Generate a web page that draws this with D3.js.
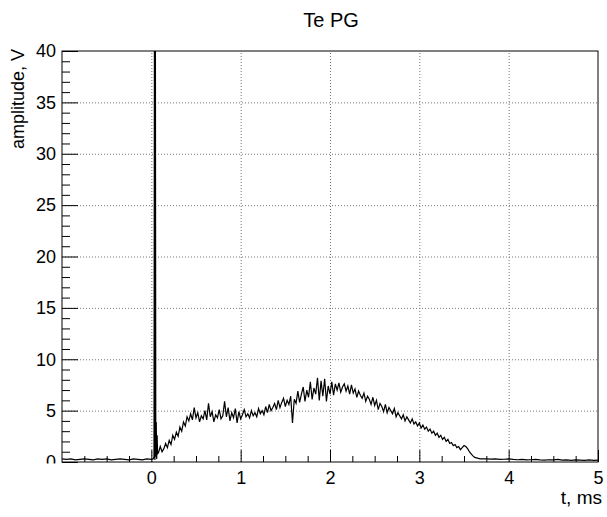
<!DOCTYPE html>
<html><head><meta charset="utf-8">
<script src="https://cdn.jsdelivr.net/npm/d3@7/dist/d3.min.js"></script>
<style>body{margin:0;background:#fff}text{font-family:"Liberation Sans",Arial,Helvetica,sans-serif;fill:#000}</style>
</head><body>
<svg id="chart" width="607" height="517"></svg>
<script>
// ---- text ----
const chartTitle = "Te PG";
const xAxisTitle = "t, ms";
const yAxisTitle = "amplitude, V";

// ---- axes ----
const xDomain = [-1, 5];
const yDomain = [0, 40];
const xMajorTicks = [0, 1, 2, 3, 4, 5];
const xMinorTicks = [-0.75, -0.5, -0.25, 0.25, 0.5, 0.75, 1.25, 1.5, 1.75, 2.25, 2.5, 2.75, 3.25, 3.5, 3.75, 4.25, 4.5, 4.75];
const yMajorTicks = [0, 5, 10, 15, 20, 25, 30, 35, 40];
const yMinorTicks = [1,2,3,4,6,7,8,9,11,12,13,14,16,17,18,19,21,22,23,24,26,27,28,29,31,32,33,34,36,37,38,39];

// ---- data: baseline before trigger (t from -1.00, step 0.05 ms) ----
const preStart = -1.0, preStep = 0.05;
const preValues = [0.3,0.25,0.3,0.2,0.25,0.3,0.25,0.2,0.3,0.25,0.3,0.2,0.25,0.3,0.25,0.2,0.3,0.25,0.2,0.3,0.25];

// ---- data: trigger spike (explicit times) ----
const spikeTimes  = [0.02, 0.03, 0.035, 0.04, 0.045, 0.05, 0.055, 0.06, 0.065, 0.07];
const spikeValues = [0.3, 0.5, 46, 0.2, 46, 0.5, 3.9, 0.3, 2.6, 0.8];

// ---- data: signal (t from 0.08, step 0.02 ms) ----
const sigStart = 0.08, sigStep = 0.02;
const sigValues = [
 0.9,1.5,1.0,1.3,1.8, 1.4,2.1,1.7,2.6,2.2, 2.9,2.5,3.4,3.0,3.9, 3.5,4.4,4.0,4.7,4.1,
 5.3,4.3,4.8,3.9,4.5, 4.2,5.0,4.1,5.7,4.4, 4.9,3.9,4.6,4.3,5.1, 4.2,4.5,5.9,4.4,5.3,
 4.0,4.8,4.3,5.2,3.8, 4.9,4.2,4.6,5.1,4.4, 4.7,4.3,5.0,4.5,4.8, 4.4,5.2,4.7,5.0,4.6,
 5.4,4.8,5.6,5.0,5.3, 5.7,5.1,6.0,5.3,5.8, 6.2,5.4,6.0,5.6,6.4, 3.8,6.1,5.7,6.9,5.8,
 6.6,7.3,5.9,7.0,6.3, 7.8,6.1,7.2,6.6,8.2, 6.0,7.9,6.4,8.1,5.9, 7.4,6.6,7.8,6.5,7.6,
 7.0,7.7,6.8,7.3,7.6, 6.9,7.4,6.6,7.5,6.7, 7.1,6.3,6.9,6.5,6.2, 6.7,5.9,6.4,6.1,5.6,
 6.3,5.5,6.0,5.1,5.7, 5.4,4.9,5.6,4.8,5.3, 5.0,4.7,5.2,4.4,4.8, 4.5,4.2,4.6,4.0,4.4,
 4.1,3.8,4.2,3.7,3.9, 3.5,3.8,3.3,3.6,3.2, 3.4,3.0,3.2,2.8,3.0, 2.6,2.8,2.4,2.6,2.2,
 2.4,2.0,2.2,1.8,1.9, 1.6,1.7,1.4,1.5,1.2, 1.4,1.6,1.5,1.3,1.0, 0.8,0.6,0.45,0.4,0.35,
 0.3,0.3
];

// ---- data: baseline after pulse (t from 3.75, step 0.05 ms) ----
const postStart = 3.75, postStep = 0.05;
const postValues = [0.3,0.28,0.3,0.25,0.27,0.3,0.25,0.22,0.25,0.2,0.22,0.25,0.2,0.18,0.22,0.2,0.25,0.18,0.2,0.15,0.2,0.18,0.15,0.2,0.15,0.18];

// assemble points
const points = [];
preValues.forEach((v,i)=>points.push([preStart + i*preStep, v]));
spikeValues.forEach((v,i)=>points.push([spikeTimes[i], v]));
sigValues.forEach((v,i)=>points.push([sigStart + i*sigStep, v]));
postValues.forEach((v,i)=>points.push([postStart + i*postStep, v]));

// ---- layout ----
const L = 62, R = 598, T = 51, B = 462;
const svg = d3.select("#chart");
const x = d3.scaleLinear().domain(xDomain).range([L, R]);
const y = d3.scaleLinear().domain(yDomain).range([B, T]);

svg.append("rect").attr("width",607).attr("height",517).attr("fill","#fff");

// grid
const gridColor = "#777";
svg.append("g").attr("transform",`translate(0,${B})`)
  .call(d3.axisBottom(x).tickValues(xMajorTicks.filter(d=>d>xDomain[0]&&d<xDomain[1])).tickSize(-(B-T)).tickFormat(""))
  .call(g=>{g.select(".domain").remove();g.selectAll("line").attr("stroke",gridColor).attr("stroke-dasharray","1,2");});
svg.append("g").attr("transform",`translate(${L},0)`)
  .call(d3.axisLeft(y).tickValues(yMajorTicks.filter(d=>d>yDomain[0]&&d<yDomain[1])).tickSize(-(R-L)).tickFormat(""))
  .call(g=>{g.select(".domain").remove();g.selectAll("line").attr("stroke",gridColor).attr("stroke-dasharray","1,2");});

// data line
svg.append("clipPath").attr("id","plotclip").append("rect").attr("x",L).attr("y",T).attr("width",R-L).attr("height",B-T);
svg.append("path").datum(points)
  .attr("clip-path","url(#plotclip)")
  .attr("fill","none").attr("stroke","#000").attr("stroke-width",1.2)
  .attr("d", d3.line().x(d=>x(d[0])).y(d=>y(d[1])));

// x ticks (inside)
svg.append("g").attr("transform",`translate(0,${B})`)
  .call(d3.axisBottom(x).tickValues(xMinorTicks).tickSize(-6).tickFormat(""))
  .call(g=>{g.select(".domain").remove();g.selectAll("line").attr("stroke","#000");});
svg.append("g").attr("transform",`translate(0,${B})`)
  .call(d3.axisBottom(x).tickValues(xMajorTicks).tickSizeInner(-12).tickSizeOuter(0).tickPadding(8).tickFormat(d3.format("d")))
  .call(g=>{g.select(".domain").remove();g.selectAll("line").attr("stroke","#000");
    g.selectAll("text").attr("font-size",18).attr("dy","0.71em").attr("y",9);});

// y ticks (inside)
svg.append("g").attr("transform",`translate(${L},0)`)
  .call(d3.axisLeft(y).tickValues(yMinorTicks).tickSize(-8).tickFormat(""))
  .call(g=>{g.select(".domain").remove();g.selectAll("line").attr("stroke","#000");});
svg.append("clipPath").attr("id","zeroclip").append("rect").attr("x",-60).attr("y",-30).attr("width",60).attr("height",31);
svg.append("g").attr("transform",`translate(${L},0)`)
  .call(d3.axisLeft(y).tickValues(yMajorTicks).tickSizeInner(-16).tickSizeOuter(0).tickPadding(6).tickFormat(d3.format("d")))
  .call(g=>{g.select(".domain").remove();g.selectAll("line").attr("stroke","#000");
    g.selectAll("text").attr("font-size",18).attr("x",-6);
    g.selectAll(".tick").filter(d=>d===0).select("text").attr("clip-path","url(#zeroclip)");});

// frame
svg.append("rect").attr("x",L).attr("y",T).attr("width",R-L).attr("height",B-T)
  .attr("fill","none").attr("stroke","#000").attr("stroke-width",1);

// titles
svg.append("text").attr("x",331).attr("y",27).attr("text-anchor","middle").attr("font-size",20).text(chartTitle);
svg.append("text").attr("x",R+4).attr("y",504).attr("text-anchor","end").attr("font-size",19).text(xAxisTitle);
svg.append("text").attr("transform",`translate(24,${T-2}) rotate(-90)`).attr("text-anchor","end").attr("font-size",18).text(yAxisTitle);
</script>
</body></html>
